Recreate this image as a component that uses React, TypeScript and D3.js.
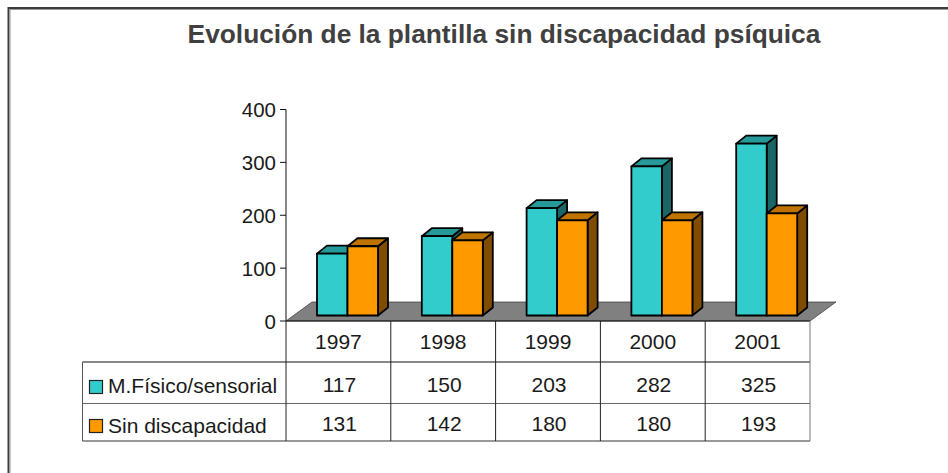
import React from 'react';
import * as d3 from 'd3';

const years = ['1997', '1998', '1999', '2000', '2001'];
const fisico = [117, 150, 203, 282, 325];
const sinDisc = [131, 142, 180, 180, 193];
const yTicks = [0, 100, 200, 300, 400];
const seriesNames = ['M.Físico/sensorial', 'Sin discapacidad'];
const seriesValues = [fisico, sinDisc];
const seriesColors = [
  { front: '#33cccc', top: '#269999', side: '#1a6666' },
  { front: '#ff9900', top: '#bf7300', side: '#804d00' },
];

const W = 948;
const H = 473;
const FONT = '"Liberation Sans", Arial, sans-serif';
const TXT = '#1a1a1a';

// plot box
const x0 = 286;
const x1 = 810;
const yZero = 321;
const yTop = 109.5;
const depthX = 26; // floor depth
const depthY = 19;
const barDx = 10; // bar depth
const barDy = 8;
const floorLift = 5.5; // bars stand a little behind the front edge of the floor

// table rows
const rowLines = [321, 362, 403.5, 441];
const tableLeft = 82.5;

const App = () => {
  const x = d3.scaleBand<string>().domain(years).range([x0, x1]);
  const inner = d3.scaleBand<number>().domain([0, 1]).range([31, 92]);
  const y = d3.scaleLinear().domain([0, 400]).range([yZero, yTop]);
  const yBar = (v: number) => y(v) - floorLift;

  const colLines = [x0, ...years.map((yr) => (x(yr) as number) + x.bandwidth())];

  return (
    <svg
      width={W}
      height={H}
      style={{ position: 'absolute', left: 0, top: 0, background: '#fff', fontFamily: FONT }}
    >
      {/* outer frame, cut by the bottom of the picture */}
      <path d={`M8.5,${H} V8 H${W}`} fill="none" stroke="#3c3c3c" strokeWidth={2} />
      <path d={`M10,${H} V9.5 H${W}`} fill="none" stroke="#999" strokeWidth={1} />

      <text x={504} y={43} textAnchor="middle" fontSize={26.3} fontWeight="bold" fill="#404040">
        Evolución de la plantilla sin discapacidad psíquica
      </text>

      {/* floor */}
      <path
        d={`M${x0},${yZero} L${x0 + depthX},${yZero - depthY} H${x1 + depthX} L${x1},${yZero} Z`}
        fill="#808080"
        stroke="#333"
        strokeWidth={0.7}
      />

      {/* y axis */}
      <line x1={x0} x2={x0} y1={yTop} y2={yZero} stroke="#111" strokeWidth={1} />
      {yTicks.map((t) => (
        <g key={t}>
          <line x1={x0 - 6} x2={x0} y1={y(t)} y2={y(t)} stroke="#111" strokeWidth={1} />
          <text x={276} y={y(t) + 7.5} textAnchor="end" fontSize={20.5} fill={TXT}>
            {t}
          </text>
        </g>
      ))}

      {/* bars, teal first so the orange one sits over its side */}
      {years.map((yr, i) =>
        seriesValues.map((vals, s) => {
          const bx = (x(yr) as number) + (inner(s) as number);
          const w = inner.bandwidth();
          const top = yBar(vals[i]);
          const base = yBar(0);
          const c = seriesColors[s];
          return (
            <g key={yr + s} stroke="#000" strokeWidth={1.8} strokeLinejoin="round">
              <path
                d={`M${bx + w},${top} l${barDx},${-barDy} V${base - barDy} L${bx + w},${base} Z`}
                fill={c.side}
              />
              <path
                d={`M${bx},${top} l${barDx},${-barDy} h${w} l${-barDx},${barDy} Z`}
                fill={c.top}
              />
              <rect x={bx} y={top} width={w} height={base - top} fill={c.front} />
            </g>
          );
        }),
      )}

      {/* data table */}
      {rowLines.map((ry, i) => (
        <line
          key={ry}
          x1={i === 0 ? x0 : tableLeft}
          x2={x1}
          y1={ry}
          y2={ry}
          stroke={i === 2 ? '#666' : i === 3 ? '#777' : '#111'}
          strokeWidth={i === 3 ? 1.5 : 1}
        />
      ))}
      <line x1={tableLeft} x2={tableLeft} y1={362} y2={441} stroke="#555" strokeWidth={1} />
      {colLines.map((cx, i) => (
        <line
          key={cx}
          x1={cx}
          x2={cx}
          y1={yZero}
          y2={441}
          stroke={i === colLines.length - 1 ? '#777' : '#222'}
          strokeWidth={1}
        />
      ))}
      {years.map((yr) => (
        <text
          key={yr}
          x={(x(yr) as number) + x.bandwidth() / 2}
          y={349}
          textAnchor="middle"
          fontSize={21}
          fill={TXT}
        >
          {yr}
        </text>
      ))}
      {seriesValues.map((vals, s) => {
        const baseline = s === 0 ? 392 : 431;
        return (
          <g key={s}>
            <rect
              x={89.5}
              y={s === 0 ? 380.5 : 419.5}
              width={13}
              height={13}
              fill={seriesColors[s].front}
              stroke="#222"
              strokeWidth={1.2}
            />
            <text x={108} y={s === 0 ? 393 : 432.5} fontSize={21} fill={TXT}>
              {seriesNames[s]}
            </text>
            {vals.map((v, i) => (
              <text
                key={years[i]}
                x={(x(years[i]) as number) + x.bandwidth() / 2 + 1}
                y={baseline}
                textAnchor="middle"
                fontSize={21}
                fill={TXT}
              >
                {v}
              </text>
            ))}
          </g>
        );
      })}
    </svg>
  );
};

export default App;
